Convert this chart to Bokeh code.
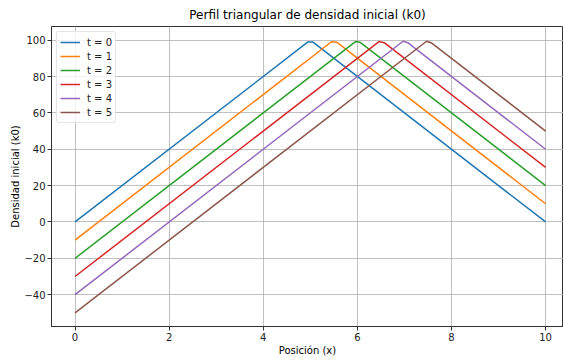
from bokeh.plotting import figure
from bokeh.models import Range1d, Legend, LegendItem, CustomJSTickFormatter, FixedTicker
from bokeh.embed import file_html
from bokeh.resources import INLINE

# Triangular density profiles k0(x) at successive times (vertices of each polyline)
labels = ["t = 0", "t = 1", "t = 2", "t = 3", "t = 4", "t = 5"]
x_t0 = [0.0, 4.95, 5.05, 10.0]
y_t0 = [0.0, 99.0, 99.0, 0.0]
x_t1 = [0.0, 5.45, 5.56, 10.0]
y_t1 = [-10.0, 99.1, 98.9, 10.0]
x_t2 = [0.0, 5.96, 6.06, 10.0]
y_t2 = [-20.0, 99.2, 98.8, 20.0]
x_t3 = [0.0, 6.46, 6.57, 10.0]
y_t3 = [-30.0, 99.2, 98.6, 30.0]
x_t4 = [0.0, 6.97, 7.07, 10.0]
y_t4 = [-40.0, 99.4, 98.6, 40.0]
x_t5 = [0.0, 7.47, 7.58, 10.0]
y_t5 = [-50.0, 99.4, 98.4, 50.0]
xs = [x_t0, x_t1, x_t2, x_t3, x_t4, x_t5]
ys = [y_t0, y_t1, y_t2, y_t3, y_t4, y_t5]
colors = ["#1f77b4", "#ff7f0e", "#2ca02c", "#d62728", "#9467bd", "#8c564b"]

x_ticks = [0, 2, 4, 6, 8, 10]
y_ticks = [-40, -20, 0, 20, 40, 60, 80, 100]

FONT = "DejaVu Sans"

p = figure(width=563, height=358, output_backend="svg", toolbar_location=None,
           x_range=Range1d(-0.5, 10.38), y_range=Range1d(-57.5, 107.5),
           min_border_left=51, min_border_right=0, min_border_top=0, min_border_bottom=0)

p.title.text = "Perfil triangular de densidad inicial (k0)"
p.title.align = "center"
p.title.text_font = FONT
p.title.text_font_size = "12px"
p.title.text_font_style = "normal"
p.title.text_color = "#000000"
p.title.standoff = 10

p.outline_line_color = "#333333"
p.outline_line_width = 1

for ax in (p.xaxis[0], p.yaxis[0]):
    ax.major_label_text_font = FONT
    ax.major_label_text_font_size = "10px"
    ax.major_label_text_color = "#222222"
    ax.axis_label_text_font = FONT
    ax.axis_label_text_font_size = "10px"
    ax.axis_label_text_font_style = "normal"
    ax.axis_label_text_color = "#000000"
    ax.axis_line_color = "#333333"
    ax.major_tick_line_color = "#333333"
    ax.major_tick_out = 4
    ax.major_tick_in = 0
    ax.minor_tick_line_color = None
    ax.major_label_standoff = 2
    ax.axis_label_standoff = 1
    ax.formatter = CustomJSTickFormatter(code="return String(tick).replace('-', '\u2212');")

p.yaxis.axis_label_standoff = 0
p.xaxis.ticker = FixedTicker(ticks=x_ticks)
p.yaxis.ticker = FixedTicker(ticks=y_ticks)
p.xaxis.axis_label = "Posición (x)"
p.yaxis.axis_label = "Densidad inicial (k0)"

p.grid.grid_line_color = "#b0b0b0"
p.grid.grid_line_width = 0.8
p.xgrid.ticker = FixedTicker(ticks=x_ticks)
p.ygrid.ticker = FixedTicker(ticks=y_ticks)

items = []
for xv, yv, c, lab in zip(xs, ys, colors, labels):
    r = p.line(xv, yv, line_color=c, line_width=1.5)
    items.append(LegendItem(label=lab, renderers=[r]))

legend = Legend(items=items, location="top_left")
legend.label_text_font = FONT
legend.label_text_font_size = "10px"
legend.label_text_color = "#222222"
legend.glyph_width = 20
legend.glyph_height = 14
legend.label_height = 14
legend.label_standoff = 7
legend.spacing = 0
legend.padding = 3
legend.margin = 5
legend.border_line_color = "#cccccc"
legend.border_line_width = 1
legend.border_radius = 3
legend.background_fill_alpha = 0.8
p.add_layout(legend)

open("out.html", "w").write(file_html(p, INLINE))
